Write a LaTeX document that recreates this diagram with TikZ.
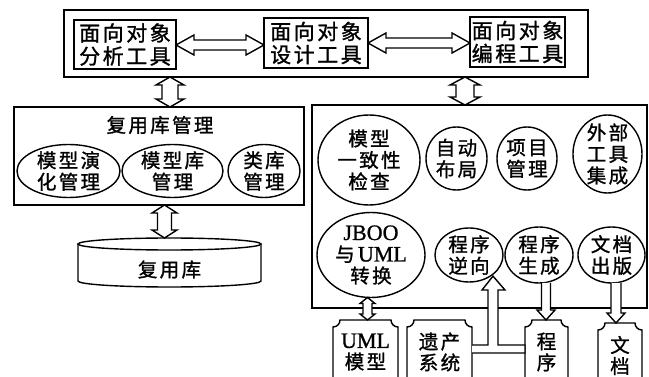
\documentclass[tikz,border=0pt]{standalone}
\usepackage{fontspec}
\setmainfont{Noto Sans CJK SC}[LetterSpace=12,FakeBold=1.2]
\newfontfamily\latf{Liberation Serif}[FakeBold=1]
\usetikzlibrary{calc,shapes.geometric}

% horizontal double hollow arrow: #1 y(px), #2 left anchor, #3 right anchor, #4 shaft half, #5 head half, #6 head length
\newcommand\hdarrow[6]{\path[hollow] let \p1=(#2), \p2=(#3) in
 (\x1,-#1pt) -- (\x1+#6pt,-#1pt+#5pt) -- (\x1+#6pt,-#1pt+#4pt) -- (\x2-#6pt,-#1pt+#4pt) -- (\x2-#6pt,-#1pt+#5pt) -- (\x2,-#1pt)
 -- (\x2-#6pt,-#1pt-#5pt) -- (\x2-#6pt,-#1pt-#4pt) -- (\x1+#6pt,-#1pt-#4pt) -- (\x1+#6pt,-#1pt-#5pt) -- cycle;}
% vertical double hollow arrow: #1 x(px), #2 upper anchor, #3 lower anchor
\newcommand\vdarrow[6]{\path[hollow] let \p1=(#2), \p2=(#3) in
 (#1pt,\y1) -- (#1pt+#5pt,\y1-#6pt) -- (#1pt+#4pt,\y1-#6pt) -- (#1pt+#4pt,\y2+#6pt) -- (#1pt+#5pt,\y2+#6pt) -- (#1pt,\y2)
 -- (#1pt-#5pt,\y2+#6pt) -- (#1pt-#4pt,\y2+#6pt) -- (#1pt-#4pt,\y1-#6pt) -- (#1pt-#5pt,\y1-#6pt) -- cycle;}
% single downward hollow arrow
\newcommand\sdarrow[6]{\path[hollow] let \p1=(#2), \p2=(#3) in
 (#1pt-#4pt,\y1) -- (#1pt-#4pt,\y2+#6pt) -- (#1pt-#5pt,\y2+#6pt) -- (#1pt,\y2) -- (#1pt+#5pt,\y2+#6pt) -- (#1pt+#4pt,\y2+#6pt) -- (#1pt+#4pt,\y1);}
% document border with concave top corners
\newcommand\docline[1]{\draw (#1.south west) -- ([yshift=-7pt]#1.north west) arc[start angle=270,end angle=360,radius=7pt]
 -- ([xshift=-7pt]#1.north east) arc[start angle=180,end angle=270,radius=7pt] -- (#1.south east);}
\newcommand\lt[1]{{\latf\fontsize{22}{22}\selectfont #1}}

\begin{document}
\begin{tikzpicture}[x=1pt,y=-1pt,line width=1.4pt,
  every node/.style={outer sep=0pt},
  txt/.style={align=center, inner sep=0pt, font=\fontsize{19.5}{21.5}\selectfont},
  tbox/.style={draw, align=center, inner sep=0pt, font=\fontsize{21}{23}\selectfont},
  frame/.style={draw, inner sep=0pt},
  ell/.style={draw, ellipse, inner sep=0pt},
  hollow/.style={draw, fill=white, line join=miter},
  docbox/.style={inner sep=0pt, align=center, font=\fontsize{19.5}{21}\selectfont}]

\fill[white] (0,0) rectangle (649,377);
\useasboundingbox (0,0) rectangle (649,377);

% top tools
\node[frame, minimum width=524pt, minimum height=67pt] (top) at (326,43.5) {};
\node[tbox, minimum width=102pt, minimum height=49pt] (ana) at (125,44.5) {面向对象\\分析工具};
\node[tbox, minimum width=104pt, minimum height=50pt] (des) at (316,43) {面向对象\\设计工具};
\node[tbox, minimum width=95pt, minimum height=50pt] (pro) at (517.5,42) {面向对象\\编程工具};

% reuse management
\node[frame, minimum width=290pt, minimum height=98pt] (reuse) at (159,156) {};
\node[txt] (reuseT) at (160,125) {复用库管理};
\node[ell, minimum width=103pt, minimum height=53pt] (e1) at (68.5,171) {};
\node[txt] (e1t) at (e1) {模型演\\化管理};
\node[ell, minimum width=101pt, minimum height=53pt] (e2) at (172.5,171) {};
\node[txt] (e2t) at (e2) {模型库\\管理};
\node[ell, minimum width=72pt, minimum height=53pt] (e3) at (264,171) {};
\node[txt] (e3t) at (e3) {类库\\管理};

% reuse library cylinder
\node[minimum width=183pt, minimum height=37pt, inner sep=0pt] (lib) at (169.5,262.5) {};
\node[txt] (libt) at ([yshift=-7pt]lib.center) {复用库};
\draw (lib.north west) -- (lib.south west) arc[start angle=180, end angle=360, x radius=91.5pt, y radius=6pt] -- (lib.north east);
\draw (lib.north) ellipse [x radius=91.5pt, y radius=6pt];

% right tool box
\node[frame, minimum width=335pt, minimum height=203pt] (rbox) at (479.5,206.5) {};

% documents at bottom
\node[docbox, minimum width=65pt, minimum height=64pt] (b1) at (365.5,352) {\lt{UML}\\模型};
\node[docbox, minimum width=65pt, minimum height=64pt] (b2) at (439.5,352) {遗产\\系统};
\node[docbox, minimum width=43pt, minimum height=64pt] (b3) at (546.5,352) {程\\序};
\node[docbox, minimum width=44pt, minimum height=65pt] (b4) at (620,355.5) {文\\档};
\docline{b1}\docline{b2}\docline{b3}\docline{b4}

% right ellipses
\node[ell, minimum width=102pt, minimum height=90pt] (r1) at (369,160) {};
\node[txt] (r1t) at (r1) {模型\\一致性\\检查};
\node[ell, minimum width=61pt, minimum height=63pt] (r2) at (456.5,158.5) {};
\node[txt] (r2t) at (r2) {自动\\布局};
\node[ell, minimum width=60pt, minimum height=63pt] (r3) at (527,158.5) {};
\node[txt] (r3t) at (r3) {项目\\管理};
\node[ell, minimum width=69pt, minimum height=78pt] (r4) at (607.5,154) {};
\node[txt] (r4t) at (r4) {外部\\工具\\集成};
\node[ell, minimum width=108pt, minimum height=85pt] (r5) at (371,255) {};
\node[txt] (r5t) at (r5) {\lt{JBOO}\\与\,\lt{UML}\\转换};
\node[ell, minimum width=68pt, minimum height=54pt] (r6) at (469,255) {};
\node[txt] (r6t) at (r6) {程序\\逆向};
\node[ell, minimum width=68pt, minimum height=56pt] (r7) at (539,255) {};
\node[txt] (r7t) at (r7) {程序\\生成};
\node[ell, minimum width=67pt, minimum height=56pt] (r8) at (611.5,255) {};
\node[txt] (r8t) at (r8) {文档\\出版};

% arrows
\hdarrow{45}{ana.east}{des.west}{5}{10}{18}
\hdarrow{43}{des.east}{pro.west}{5}{10}{18}
\vdarrow{170}{top.south}{reuse.north}{8}{14}{8}
\vdarrow{465}{top.south}{rbox.north}{9}{15}{8}
\vdarrow{164.5}{reuse.south}{[yshift=6pt]lib.north}{7}{12.5}{8}
\vdarrow{367.5}{r5.south}{b1.north}{4.5}{7.5}{6}
\sdarrow{546}{r7.south}{b3.north}{4.5}{9}{10}
\sdarrow{616}{r8.south}{b4.north}{5}{9}{10}
\path[hollow] let \p1=(b2.east), \p2=(b3.west), \p3=(r6.-45) in
  (\x1,-345pt) -- (488pt,-345pt) -- (488pt,-290pt) -- (482pt,-290pt) -- (493pt,\y3) -- (505pt,-290pt)
  -- (498pt,-290pt) -- (498pt,-345pt) -- (\x2,-345pt) -- (\x2,-353pt) -- (\x1,-353pt);
\end{tikzpicture}
\end{document}
